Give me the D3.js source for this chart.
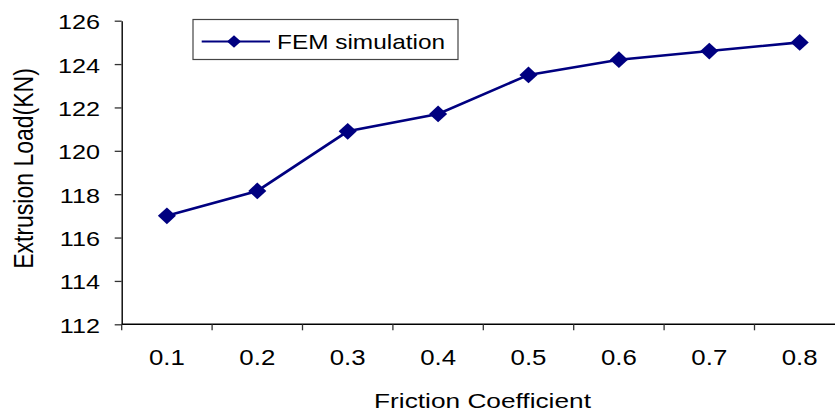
<!DOCTYPE html>
<html>
<head>
<meta charset="utf-8">
<script src="https://cdn.jsdelivr.net/npm/d3@7"></script>
<style>
  html, body { margin: 0; padding: 0; background: #fff; }
  svg { display: block; }
  text { font-family: "Liberation Sans", Arial, sans-serif; fill: #000; }
</style>
</head>
<body>
<div id="chart"></div>
<script>
// ---- data ----
const categories = ["0.1", "0.2", "0.3", "0.4", "0.5", "0.6", "0.7", "0.8"];
const femValues = [117.0, 118.15, 120.9, 121.7, 123.5, 124.2, 124.6, 125.0];
const yTicks = [112, 114, 116, 118, 120, 122, 124, 126];
const seriesName = "FEM simulation";
const xTitle = "Friction Coefficient";
const yTitle = "Extrusion Load(KN)";

// ---- layout ----
const W = 835, H = 416;
const plotLeft = 121.7, plotTop = 20.7, plotBottom = 324.3;
const band = 90.4;
const sx = 1.2; // horizontal stretch of the original raster text
const navy = "#000080";

const svg = d3.select("#chart").append("svg").attr("width", W).attr("height", H);

const x = d3.scaleBand().domain(categories).range([plotLeft, plotLeft + band * categories.length]).paddingInner(0).paddingOuter(0);
const y = d3.scaleLinear().domain([112, 126]).range([plotBottom, plotTop]);

// Y axis
const yAxis = svg.append("g").attr("transform", `translate(${plotLeft},0)`)
  .call(d3.axisLeft(y).tickValues(yTicks).tickFormat(d3.format("d")).tickSize(7).tickPadding(0).tickSizeOuter(0));
yAxis.select(".domain").attr("stroke", "#000").attr("stroke-width", 1.4);
yAxis.selectAll(".tick line").attr("stroke", "#333").attr("stroke-width", 1.3);
yAxis.selectAll(".tick text")
  .attr("x", 0).attr("dy", "0.36em")
  .attr("font-size", 21).attr("text-anchor", "end")
  .attr("transform", `translate(-21.7,0.5) scale(${sx},1)`);

// X axis
const xAxisG = svg.append("g").attr("transform", `translate(0,${plotBottom})`);
xAxisG.append("line").attr("x1", plotLeft).attr("x2", W).attr("y1", 0).attr("y2", 0)
  .attr("stroke", "#000").attr("stroke-width", 1.4);
xAxisG.selectAll("line.xt").data(categories).join("line").attr("class", "xt")
  .attr("x1", d => x(d)).attr("x2", d => x(d)).attr("y1", 0).attr("y2", 6)
  .attr("stroke", "#333").attr("stroke-width", 1.3);
xAxisG.selectAll("g.xl").data(categories).join("g").attr("class", "xl")
  .attr("transform", d => `translate(${x(d) + x.bandwidth() / 2},41) scale(${sx},1)`)
  .append("text").attr("text-anchor", "middle").attr("font-size", 21.5).text(d => d);

// Titles
svg.append("g").attr("transform", `translate(482.5,408.3) scale(1.25,1)`)
  .append("text").attr("text-anchor", "middle").attr("font-size", 21).text(xTitle);
svg.append("g").attr("transform", `translate(33.3,168.5) scale(${sx},1) rotate(-90)`)
  .append("text").attr("text-anchor", "middle").attr("font-size", 23).text(yTitle);

// Line series
const cx = d => x(d) + x.bandwidth() / 2;
const pts = categories.map((c, i) => [cx(c), y(femValues[i])]);
svg.append("path").attr("d", d3.line()(pts)).attr("fill", "none")
  .attr("stroke", navy).attr("stroke-width", 2.6);
svg.selectAll("path.mk").data(pts).join("path").attr("class", "mk")
  .attr("d", d3.symbol().type(d3.symbolSquare).size(140)())
  .attr("transform", d => `translate(${d[0]},${d[1]}) scale(1.08,1) rotate(45)`)
  .attr("fill", navy);

// Legend
const lg = svg.append("g");
lg.append("rect").attr("x", 193).attr("y", 19.5).attr("width", 265).attr("height", 40)
  .attr("fill", "#fff").attr("stroke", "#444").attr("stroke-width", 1.2);
lg.append("line").attr("x1", 201.7).attr("x2", 270).attr("y1", 41.5).attr("y2", 41.5)
  .attr("stroke", navy).attr("stroke-width", 1.8);
lg.append("path").attr("d", d3.symbol().type(d3.symbolSquare).size(80)())
  .attr("transform", "translate(234,41.5) scale(1.1,1) rotate(45)").attr("fill", navy);
lg.append("g").attr("transform", "translate(277,48.5) scale(1.22,1)")
  .append("text").attr("font-size", 20).text(seriesName);
</script>
</body>
</html>
